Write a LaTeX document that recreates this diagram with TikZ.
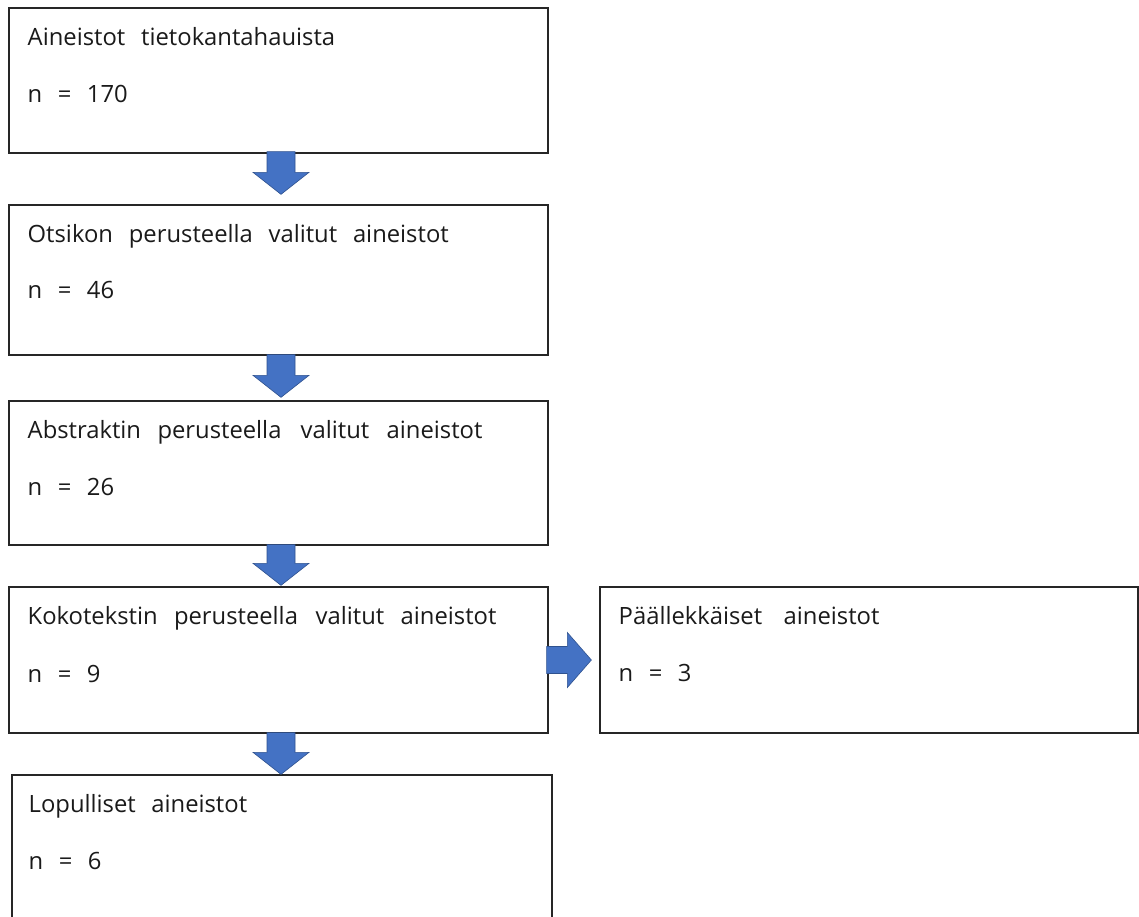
\documentclass[tikz,border=0pt]{standalone}
\usepackage{fontspec}
\setmainfont{Open Sans}
\usetikzlibrary{calc}
\definecolor{arrowfill}{HTML}{4472C4}
\definecolor{arrowline}{HTML}{2F528F}
\definecolor{txt}{HTML}{1A1A1A}
\begin{document}
\begin{tikzpicture}[x=1pt,y=-1pt,
  box/.style={draw=black!85,line width=1.3pt,fill=white,rectangle,inner sep=0pt,minimum width=#1},
  box/.default=539,
  lbl/.style={anchor=base west,inner sep=0pt,text=txt,font=\fontsize{23.8}{28}\selectfont},
  blockdown/.style={fill=arrowfill,draw=arrowline,line width=0.6pt,line join=miter,
    to path={($(\tikztostart)+(-14,0)$) -- ($(\tikztostart)+(14,0)$) -- ($(\tikztotarget)+(14,-22)$) -- ($(\tikztotarget)+(28,-22)$) -- (\tikztotarget) -- ($(\tikztotarget)+(-28,-22)$) -- ($(\tikztotarget)+(-14,-22)$) -- cycle}},
  blockright/.style={fill=arrowfill,draw=arrowline,line width=0.6pt,line join=miter,
    to path={($(\tikztostart)+(0,-13.5)$) -- ($(\tikztotarget)+(-24,-13.5)$) -- ($(\tikztotarget)+(-24,-27.5)$) -- (\tikztotarget) -- ($(\tikztotarget)+(-24,27.5)$) -- ($(\tikztotarget)+(-24,13.5)$) -- ($(\tikztostart)+(0,13.5)$) -- cycle}}
]
\useasboundingbox (0,0) rectangle (1139,916);
\clip (0,0) rectangle (1139,916);
\fill[white] (0,0) rectangle (1139,916);

\node[box,minimum height=145] (b1) at (278.5,80.5) {};
\node[box,minimum height=150] (b2) at (278.5,280) {};
\node[box,minimum height=144] (b3) at (278.5,473) {};
\node[box,minimum height=146] (b4) at (278.5,660) {};
\node[box=538,minimum height=146] (b5) at (869,660) {};
\node[box=540,minimum height=190] (b6) at (282,870) {};

% baselines of the two text rows in each box
\coordinate (r1a) at ($(b1.north west)+(0,38.5)$);
\coordinate (r1b) at ($(b1.north west)+(0,95)$);
\coordinate (r2a) at ($(b2.north west)+(0,38.5)$);
\coordinate (r2b) at ($(b2.north west)+(0,94)$);
\coordinate (r3a) at ($(b3.north west)+(0,38.5)$);
\coordinate (r3b) at ($(b3.north west)+(0,95)$);
\coordinate (r4a) at ($(b4.north west)+(0,38.5)$);
\coordinate (r4b) at ($(b4.north west)+(0,96)$);
\coordinate (r5a) at ($(b5.north west)+(0,38.5)$);
\coordinate (r5b) at ($(b5.north west)+(0,95)$);
\coordinate (r6a) at ($(b6.north west)+(0,38.5)$);
\coordinate (r6b) at ($(b6.north west)+(0,95)$);

\foreach \w/\x [count=\i] in {Aineistot/27.5,tietokantahauista/141}
  \node[lbl] (t1a\i) at (\x,0 |- r1a) {\w};
\foreach \w/\x [count=\i] in {n/27.5,=/57.6,170/86.7}
  \node[lbl] (t1b\i) at (\x,0 |- r1b) {\w};
\foreach \w/\x [count=\i] in {Otsikon/27.5,perusteella/128.7,valitut/268.4,aineistot/352.8}
  \node[lbl] (t2a\i) at (\x,0 |- r2a) {\w};
\foreach \w/\x [count=\i] in {n/27.5,=/57.6,46/86.7}
  \node[lbl] (t2b\i) at (\x,0 |- r2b) {\w};
\foreach \w/\x [count=\i] in {Abstraktin/27.5,perusteella/157.3,valitut/300.5,aineistot/386.5}
  \node[lbl] (t3a\i) at (\x,0 |- r3a) {\w};
\foreach \w/\x [count=\i] in {n/27.5,=/57.6,26/86.7}
  \node[lbl] (t3b\i) at (\x,0 |- r3b) {\w};
\foreach \w/\x [count=\i] in {Kokotekstin/27.5,perusteella/173.8,valitut/315.5,aineistot/400.5}
  \node[lbl] (t4a\i) at (\x,0 |- r4a) {\w};
\foreach \w/\x [count=\i] in {n/27.5,=/57.6,9/86.7}
  \node[lbl] (t4b\i) at (\x,0 |- r4b) {\w};
\foreach \w/\x [count=\i] in {Päällekkäiset/618.5,aineistot/783.5}
  \node[lbl] (t5a\i) at (\x,0 |- r5a) {\w};
\foreach \w/\x [count=\i] in {n/618.5,=/648.6,3/677.7}
  \node[lbl] (t5b\i) at (\x,0 |- r5b) {\w};
\foreach \w/\x [count=\i] in {Lopulliset/28.5,aineistot/151.2}
  \node[lbl] (t6a\i) at (\x,0 |- r6a) {\w};
\foreach \w/\x [count=\i] in {n/28.5,=/58.6,6/87.7}
  \node[lbl] (t6b\i) at (\x,0 |- r6b) {\w};

\draw[blockdown] ($(b1.south)+(2.5,-2)$) to ($(b2.north)+(2.5,-10)$);
\draw[blockdown] ($(b2.south)+(2.5,-1)$) to ($(b3.north)+(2.5,-3)$);
\draw[blockdown] ($(b3.south)+(2.5,-1)$) to ($(b4.north)+(2.5,-1)$);
\draw[blockdown] ($(b4.south)+(2.5,-1)$) to ($(b6.north)+(-1,0)$);
\draw[blockright] ($(b4.east)+(-2,0)$) to ($(b5.west)+(-8,0)$);
\end{tikzpicture}
\end{document}
